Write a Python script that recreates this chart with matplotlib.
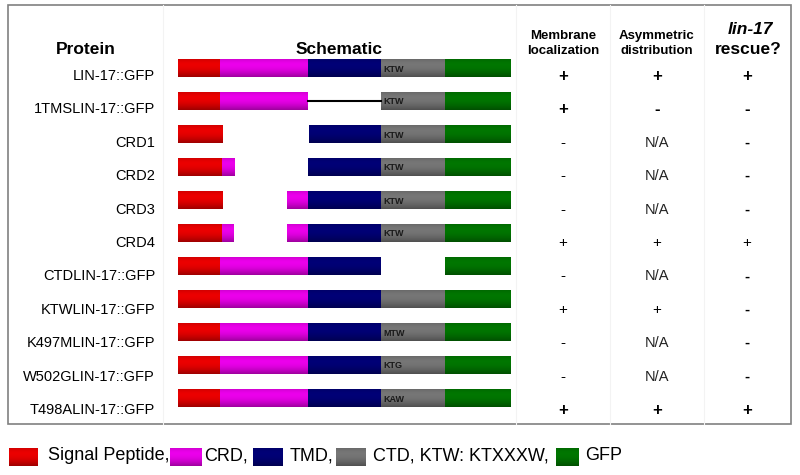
import numpy as np
import matplotlib.pyplot as plt
from matplotlib.colors import to_rgb
from matplotlib.patches import Rectangle

plt.rcParams['font.family'] = ['Liberation Sans', 'DejaVu Sans']

# domain colours
colors = {'SP': '#ff0000', 'CRD': '#ff00ff', 'TMD': '#000080',
          'CTD': '#808080', 'GFP': '#008000'}

proteins = ['LIN-17::GFP', '1TMSLIN-17::GFP', 'CRD1', 'CRD2', 'CRD3', 'CRD4',
            'CTDLIN-17::GFP', 'KTWLIN-17::GFP', 'K497MLIN-17::GFP',
            'W502GLIN-17::GFP', 'T498ALIN-17::GFP']

# segments along the schematic (0-100 scale): (start, end, domain)
full = [(0, 12.7, 'SP'), (12.7, 39.0, 'CRD'), (39.3, 61.2, 'TMD'),
        (61.2, 80.4, 'CTD'), (80.4, 100, 'GFP')]
segments = [
    full,
    [(0, 12.7, 'SP'), (12.7, 39.0, 'CRD'), (61.2, 80.4, 'CTD'), (80.4, 100, 'GFP')],
    [(0, 13.3, 'SP'), (39.5, 61.2, 'TMD'), (61.2, 80.4, 'CTD'), (80.4, 100, 'GFP')],
    [(0, 13.3, 'SP'), (13.3, 17.2, 'CRD'), (39.3, 61.2, 'TMD'), (61.2, 80.4, 'CTD'), (80.4, 100, 'GFP')],
    [(0, 13.3, 'SP'), (32.8, 39.3, 'CRD'), (39.3, 61.2, 'TMD'), (61.2, 80.4, 'CTD'), (80.4, 100, 'GFP')],
    [(0, 13.3, 'SP'), (13.3, 16.9, 'CRD'), (32.8, 39.3, 'CRD'), (39.3, 61.2, 'TMD'), (61.2, 80.4, 'CTD'), (80.4, 100, 'GFP')],
    [(0, 12.7, 'SP'), (12.7, 39.0, 'CRD'), (39.3, 61.2, 'TMD'), (80.4, 100, 'GFP')],
    full, full, full, full,
]
linker = [None, (39.3, 61.2), None, None, None, None, None, None, None, None, None]
motif = ['KTW', 'KTW', 'KTW', 'KTW', 'KTW', 'KTW', '', '', 'MTW', 'KTG', 'KAW']

membrane = ['+', '+', '-', '-', '-', '+', '-', '+', '-', '-', '+']
asymmetric = ['+', '-', 'N/A', 'N/A', 'N/A', '+', 'N/A', '+', 'N/A', 'N/A', '+']
rescue = ['+', '-', '-', '-', '-', '+', '-', '-', '-', '-', '+']
bold_rows = [0, 1, 10]

legend_labels = ['Signal Peptide,', 'CRD,', 'TMD,', 'CTD, KTW: KTXXXW,', 'GFP']
legend_keys = ['SP', 'CRD', 'TMD', 'CTD', 'GFP']


def shade(color, n=40):
    base = np.array(to_rgb(color))
    t = np.linspace(0, 1, n)
    f = 1 - 0.38 * t ** 2 - 0.18 * (1 - t) ** 4
    return (base[None, :] * f[:, None])[:, None, :]


def gbar(ax, x0, x1, yc, h, color):
    ax.imshow(shade(color), extent=(x0, x1, yc + h / 2, yc - h / 2),
              aspect='auto', interpolation='bilinear')


fig = plt.figure(figsize=(8, 4.75), dpi=100)
ax = fig.add_axes([0, 0, 1, 1])
ax.set_xlim(0, 800)
ax.set_ylim(475, 0)
ax.axis('off')

# table frame and faint column separators
ax.add_patch(Rectangle((8, 5), 783, 419, fill=False, ec='#808080', lw=1.2))
for xs in [163, 516, 610, 704]:
    ax.plot([xs, xs], [5, 424], color='#f3f3f3', lw=0.8)

# headers
ax.text(86, 49, 'Protein', fontsize=12.5, fontweight='bold', ha='center', va='center')
ax.text(339, 49, 'Schematic', fontsize=12.5, fontweight='bold', ha='center', va='center')
ax.text(563, 36, 'Membrane', fontsize=9.5, fontweight='bold', ha='center', va='center')
ax.text(563, 51, 'localization', fontsize=9.5, fontweight='bold', ha='center', va='center')
ax.text(657, 36, 'Asymmetric', fontsize=9.5, fontweight='bold', ha='center', va='center')
ax.text(657, 51, 'distribution', fontsize=9.5, fontweight='bold', ha='center', va='center')
ax.text(750, 30, 'lin-17', fontsize=12.5, fontweight='bold', style='italic',
        ha='center', va='center')
ax.text(748, 50, 'rescue?', fontsize=12.5, fontweight='bold', ha='center', va='center')

# row labels and results
for i, name in enumerate(proteins):
    yt = 76 + 33.4 * i
    ax.text(155, yt, name, fontsize=10.5, ha='right', va='center')
    for xc, vals in [(563, membrane), (657, asymmetric), (747, rescue)]:
        v = vals[i]
        if i in bold_rows:
            ax.text(xc, yt, v, fontsize=12, fontweight='bold', ha='center', va='center')
        elif v == 'N/A':
            ax.text(xc, yt, v, fontsize=10.5, ha='center', va='center', color='#222222')
        else:
            w = 'bold' if (xc == 747 and v == '-') else 'normal'
            ax.text(xc, yt, v, fontsize=11, fontweight=w, ha='center', va='center')

# legend
legend_boxes = [(9, 38), (170, 202), (253, 283), (336, 366), (556, 579)]
legend_text_x = [48, 204, 290, 373, 585]
for (b0, b1), key, lab, tx in zip(legend_boxes, legend_keys, legend_labels, legend_text_x):
    gbar(ax, b0, b1, 457, 18, colors[key])
    ax.text(tx, 456, lab, fontsize=13, ha='left', va='center')

# schematic
sx = fig.add_axes([178 / 800, 0, 332 / 800, 1])
for i, segs in enumerate(segments):
    yc = 68 + 33 * i
    for s0, s1, d in segs:
        gbar(sx, s0, s1, yc, 18, colors[d])
    if linker[i] is not None:
        sx.plot(linker[i], [yc, yc], color='black', lw=1.5)
    if motif[i]:
        sx.text(62.0, yc + 1, motif[i], fontsize=6.5, fontweight='bold',
                color='#1a1a1a', ha='left', va='center')
sx.set_xlim(0, 100)
sx.set_ylim(475, 0)
sx.axis('off')

fig.savefig('out.png', dpi=100)
